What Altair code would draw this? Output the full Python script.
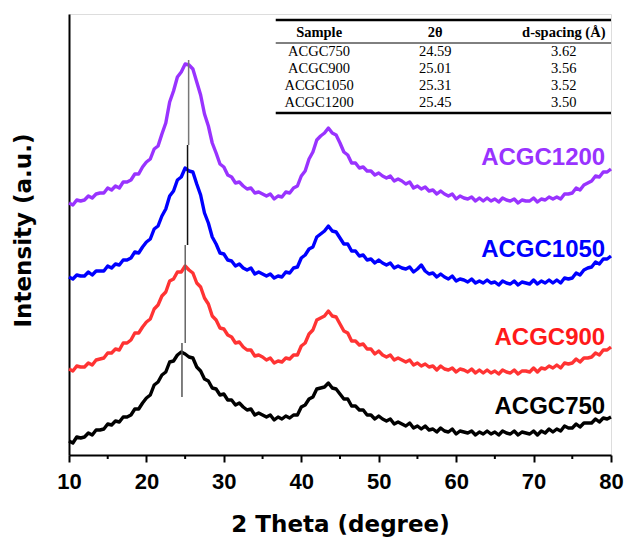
import altair as alt
import pandas as pd

# XRD patterns of the ACGC carbons (stacked, arbitrary intensity units)
two_theta = [10 + 0.5 * i for i in range(141)]

acgc750 = [14, 12, 18, 17, 18, 22, 20, 25, 25, 26,
           31, 30, 34, 33, 38, 38, 40, 46, 46, 52,
           57, 60, 70, 73, 80, 83, 93, 94, 100, 103,
           101, 98, 97, 88, 84, 76, 74, 67, 66, 60,
           61, 55, 55, 50, 52, 48, 45, 46, 40, 42,
           40, 38, 40, 35, 38, 36, 39, 37, 40, 40,
           48, 50, 56, 58, 66, 67, 68, 72, 67, 66,
           61, 56, 56, 49, 49, 45, 45, 40, 40, 36,
           39, 36, 34, 36, 31, 33, 31, 29, 32, 27,
           29, 26, 29, 25, 26, 23, 27, 24, 23, 26,
           21, 24, 23, 22, 24, 20, 23, 21, 24, 21,
           23, 20, 24, 22, 21, 24, 20, 23, 22, 21,
           24, 20, 24, 22, 26, 23, 26, 24, 29, 27,
           27, 31, 28, 32, 32, 32, 36, 33, 37, 36,
           38]

acgc900 = [86, 84, 89, 88, 88, 92, 90, 95, 96, 97,
           102, 102, 106, 105, 112, 112, 115, 122, 122, 128,
           133, 136, 146, 150, 159, 163, 174, 176, 183, 183,
           189, 185, 182, 172, 168, 157, 151, 139, 135, 127,
           126, 120, 118, 112, 113, 108, 105, 105, 99, 100,
           98, 95, 97, 92, 94, 93, 97, 96, 100, 100,
           109, 112, 121, 125, 135, 137, 139, 144, 139, 138,
           131, 124, 122, 114, 114, 110, 111, 106, 106, 101,
           104, 100, 98, 100, 95, 97, 95, 93, 95, 90,
           92, 89, 91, 88, 89, 85, 89, 86, 85, 87,
           83, 86, 85, 83, 86, 82, 85, 82, 85, 82,
           84, 81, 85, 83, 82, 85, 81, 84, 84, 83,
           87, 83, 87, 86, 89, 87, 90, 87, 92, 91,
           92, 96, 93, 97, 97, 98, 102, 100, 105, 105,
           108]

acgc1050 = [178, 176, 180, 179, 179, 183, 180, 184, 184, 184,
            189, 187, 191, 190, 195, 195, 197, 203, 202, 208,
            213, 216, 226, 229, 239, 246, 259, 264, 275, 278,
            287, 284, 283, 271, 260, 242, 232, 218, 211, 202,
            201, 195, 194, 189, 191, 187, 185, 187, 181, 183,
            181, 179, 181, 177, 179, 178, 183, 182, 187, 188,
            197, 200, 206, 208, 218, 221, 224, 229, 224, 223,
            217, 211, 211, 204, 204, 199, 200, 195, 196, 192,
            195, 192, 190, 192, 187, 189, 187, 186, 188, 183,
            186, 190, 184, 181, 182, 178, 181, 178, 176, 179,
            174, 176, 175, 173, 176, 172, 174, 172, 175, 172,
            173, 170, 174, 172, 171, 174, 170, 173, 172, 171,
            175, 171, 174, 172, 175, 172, 175, 172, 177, 176,
            177, 182, 180, 185, 187, 188, 193, 191, 196, 196,
            199]

acgc1200 = [252, 250, 255, 254, 255, 259, 257, 261, 262, 262,
            267, 265, 269, 267, 273, 273, 275, 281, 281, 288,
            293, 296, 306, 309, 321, 332, 353, 364, 378, 383,
            391, 390, 386, 373, 360, 341, 329, 312, 302, 291,
            288, 280, 278, 272, 273, 269, 266, 267, 262, 263,
            261, 259, 261, 256, 259, 258, 263, 262, 267, 269,
            279, 284, 296, 303, 315, 319, 322, 327, 322, 320,
            312, 303, 300, 292, 292, 287, 288, 284, 284, 280,
            282, 279, 277, 279, 274, 276, 274, 271, 273, 267,
            269, 266, 268, 264, 265, 261, 264, 261, 259, 261,
            256, 259, 257, 256, 258, 254, 257, 254, 257, 254,
            256, 253, 257, 255, 254, 256, 252, 255, 254, 254,
            257, 253, 256, 255, 258, 256, 258, 256, 261, 261,
            262, 267, 265, 270, 272, 274, 279, 278, 283, 283,
            286]

samples = ["ACGC750", "ACGC900", "ACGC1050", "ACGC1200"]
series = [acgc750, acgc900, acgc1050, acgc1200]
peak_2theta = [24.59, 25.01, 25.31, 25.45]
d_spacing = ["3.62", "3.56", "3.52", "3.50"]

# vertical extent of each peak-position marker (intensity units)
marker_low = [58, 112, 210, 310]
marker_high = [112, 210, 310, 395]
marker_color = ["#555555", "#666666", "#111111", "#777777"]

# curve label anchors
label_x = 79.25
label_y = [48, 117, 205, 297]

colors = ["#000000", "#ff3333", "#0000ff", "#9933ff"]
label_colors = ["#000000", "#ff1a1a", "#0000ff", "#9933ff"]

W, H = 542, 441
x_scale = alt.Scale(domain=[10, 80], nice=False, zero=False)
y_scale = alt.Scale(domain=[0, 441], nice=False, zero=False)

x_axis = alt.Axis(
    values=[10, 20, 30, 40, 50, 60, 70, 80], format="d",
    tickSize=7, tickWidth=2, tickColor="#000", domainWidth=2, domainColor="#000",
    labelFont="Liberation Sans", labelFontWeight="bold", labelFontSize=22,
    labelColor="#000", labelPadding=9, labelFlush=False, labelOverlap=False,
    grid=False,
    titleFont="DejaVu Sans", titleFontWeight="bold", titleFontSize=23,
    titleColor="#000", titleBaseline="middle", titleY=69,
)
y_axis = alt.Axis(
    ticks=False, labels=False, grid=False, domainWidth=2, domainColor="#000",
    titleFont="DejaVu Sans", titleFontWeight="bold", titleFontSize=23,
    titleColor="#000", titleAngle=270, titleBaseline="middle", titleAlign="center",
    titleX=-46, titleY=216,
)


def xq(field="x"):
    return alt.X(f"{field}:Q", scale=x_scale, axis=x_axis, title="2 Theta (degree)")


def yq(field="y"):
    return alt.Y(f"{field}:Q", scale=y_scale, axis=y_axis, title="Intensity (a.u.)")


color_scale = alt.Scale(domain=samples, range=colors)

rows = []
for name, vals in zip(samples, series):
    for t, v in zip(two_theta, vals):
        rows.append({"x": t, "y": v, "sample": name})
patterns = pd.DataFrame(rows)

lines = alt.Chart(patterns).mark_line(strokeWidth=3.4, strokeJoin="round").encode(
    x=xq(), y=yq(),
    color=alt.Color("sample:N", scale=color_scale, legend=None),
    detail="sample:N",
)

markers_df = pd.DataFrame({"x": peak_2theta, "y": marker_low, "y2": marker_high,
                           "c": marker_color})
markers = alt.Chart(markers_df).mark_rule(strokeWidth=1.5).encode(
    x=xq(), y=yq(), y2="y2:Q",
    color=alt.Color("c:N", scale=None),
)

labels_df = pd.DataFrame({"x": [label_x] * 4, "y": label_y, "text": samples,
                          "c": label_colors})
labels = alt.Chart(labels_df).mark_text(
    align="right", baseline="middle", font="Liberation Sans",
    fontWeight="bold", fontSize=24,
).encode(x=xq(), y=yq(), text="text:N", color=alt.Color("c:N", scale=None))

# minor ticks at the half decades
minor_df = pd.DataFrame({"x": [15, 25, 35, 45, 55, 65, 75]})
minor = alt.Chart(minor_df).mark_rule(strokeWidth=2, color="#000").encode(
    x=xq(), y=alt.value(H), y2=alt.value(H + 4),
)

# inset table
col_x = [42.3, 57.3, 73.9]
head_y = 422
row_y = [403, 386, 369, 352]
header_df = pd.DataFrame({"x": col_x, "y": [head_y] * 3,
                          "text": ["Sample", "2θ", "d-spacing (Å)"]})
header = alt.Chart(header_df).mark_text(
    font="Liberation Serif", fontWeight="bold", fontSize=14.5, color="#000",
    baseline="middle", align="center",
).encode(x=xq(), y=yq(), text="text:N")

cells = []
for i in range(4):
    cells.append({"x": col_x[0], "y": row_y[i], "text": samples[i]})
    cells.append({"x": col_x[1], "y": row_y[i], "text": f"{peak_2theta[i]:.2f}"})
    cells.append({"x": col_x[2], "y": row_y[i], "text": d_spacing[i]})
body = alt.Chart(pd.DataFrame(cells)).mark_text(
    font="Liberation Serif", fontSize=14.5, color="#000",
    baseline="middle", align="center",
).encode(x=xq(), y=yq(), text="text:N")

rule_df = pd.DataFrame({"x": [36.7, 36.7, 36.7], "x2": [80, 80, 80],
                        "y": [435, 412, 342], "w": [2.5, 1, 2.5]})
table_rules = alt.Chart(rule_df).mark_rule(color="#000").encode(
    x=xq(), x2="x2:Q", y=yq(), strokeWidth=alt.StrokeWidth("w:Q", scale=None),
)

chart = alt.layer(
    lines, markers, labels, minor, table_rules, header, body
).properties(
    width=W, height=H,
    padding={"left": 69, "top": 14, "right": 18, "bottom": 86},
    autosize=alt.AutoSizeParams(type="none"),
).configure_view(stroke="#222", strokeWidth=1.5).configure(background="white")

chart.save("out.html", embed_options={"renderer": "svg", "actions": False})
